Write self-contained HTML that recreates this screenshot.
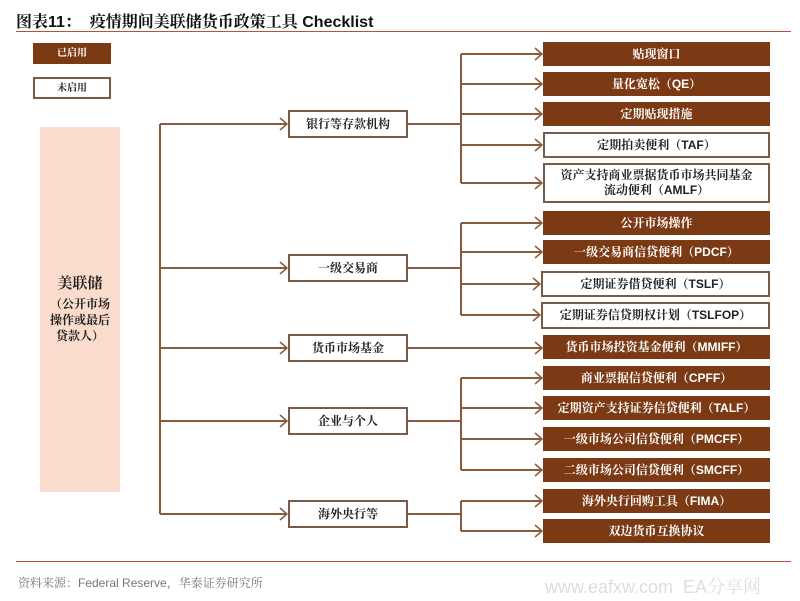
<!DOCTYPE html>
<html><head><meta charset="utf-8"><style>
body{margin:0;width:800px;height:601px;background:#fff;position:relative;overflow:hidden;font-family:"Liberation Sans","Noto Serif CJK SC","Noto Sans CJK SC",sans-serif;}
.b{position:absolute;box-sizing:border-box;display:flex;align-items:center;justify-content:center;text-align:center;font-size:12px;font-weight:bold;line-height:15px;}
.f{background:#7b3a14;color:#fff;}
.o{background:#fff;border:2px solid #7a5a48;color:#222;}
svg{position:absolute;left:0;top:0;}
</style></head><body>
<div style="position:absolute;left:16px;top:9px;font-size:16px;font-weight:bold;color:#111;font-family:'Liberation Sans','Noto Serif CJK SC',sans-serif">图表11：&nbsp;&nbsp;疫情期间美联储货币政策工具 Checklist</div>
<div style="position:absolute;left:16px;top:31px;width:775px;height:1px;background:#b5543a"></div>
<div class="b f" style="left:33px;top:43px;width:78px;height:21px;font-size:10px">已启用</div>
<div class="b o" style="left:33px;top:77px;width:78px;height:22px;font-size:10px">未启用</div>
<div class="b" style="left:40px;top:127px;width:80px;height:365px;background:#f9dccb;color:#222;flex-direction:column;font-size:12px;line-height:16px"><div style="font-size:15px;margin-bottom:4px">美联储</div>（公开市场<br>操作或最后<br>贷款人）</div>
<svg width="800" height="601" fill="none" stroke="#8a5a3c" stroke-width="2">
<path d="M160 124V514M160 124H286M160 268H286M160 348H286M160 421H286M160 514H286"/>
<path d="M408 124H461M461 54V183M461 54H541M461 84H541M461 114H541M461 145H541M461 183H541"/>
<path d="M408 268H461M461 223V315M461 223H541M461 252H541M461 284H539M461 315H539"/>
<path d="M408 348H541"/>
<path d="M408 421H461M461 378V470M461 378H541M461 408H541M461 439H541M461 470H541"/>
<path d="M408 514H461M461 501V531M461 501H541M461 531H541"/>
<g stroke-width="1.5">
<path d="M280 118l7 6-7 6M280 262l7 6-7 6M280 342l7 6-7 6M280 415l7 6-7 6M280 508l7 6-7 6"/>
<path d="M535 48l7 6-7 6M535 78l7 6-7 6M535 108l7 6-7 6M535 139l7 6-7 6M535 177l7 6-7 6M535 217l7 6-7 6M535 246l7 6-7 6M533 278l7 6-7 6M533 309l7 6-7 6M535 342l7 6-7 6M535 372l7 6-7 6M535 402l7 6-7 6M535 433l7 6-7 6M535 464l7 6-7 6M535 495l7 6-7 6M535 525l7 6-7 6"/>
</g>
</svg>
<div class="b o" style="left:288px;top:110px;width:120px;height:28px">银行等存款机构</div>
<div class="b o" style="left:288px;top:254px;width:120px;height:28px">一级交易商</div>
<div class="b o" style="left:288px;top:334px;width:120px;height:28px">货币市场基金</div>
<div class="b o" style="left:288px;top:407px;width:120px;height:28px">企业与个人</div>
<div class="b o" style="left:288px;top:500px;width:120px;height:28px">海外央行等</div>
<div class="b f" style="left:543px;top:42px;width:227px;height:24px">贴现窗口</div>
<div class="b f" style="left:543px;top:72px;width:227px;height:24px">量化宽松（QE）</div>
<div class="b f" style="left:543px;top:102px;width:227px;height:24px">定期贴现措施</div>
<div class="b o" style="left:543px;top:132px;width:227px;height:26px">定期拍卖便利（TAF）</div>
<div class="b o" style="left:543px;top:163px;width:227px;height:40px">资产支持商业票据货币市场共同基金<br>流动便利（AMLF）</div>
<div class="b f" style="left:543px;top:211px;width:227px;height:24px">公开市场操作</div>
<div class="b f" style="left:543px;top:240px;width:227px;height:24px">一级交易商信贷便利（PDCF）</div>
<div class="b o" style="left:541px;top:271px;width:229px;height:26px">定期证券借贷便利（TSLF）</div>
<div class="b o" style="left:541px;top:302px;width:229px;height:27px">定期证券信贷期权计划（TSLFOP）</div>
<div class="b f" style="left:543px;top:335px;width:227px;height:24px">货币市场投资基金便利（MMIFF）</div>
<div class="b f" style="left:543px;top:366px;width:227px;height:24px">商业票据信贷便利（CPFF）</div>
<div class="b f" style="left:543px;top:396px;width:227px;height:24px">定期资产支持证券信贷便利（TALF）</div>
<div class="b f" style="left:543px;top:427px;width:227px;height:24px">一级市场公司信贷便利（PMCFF）</div>
<div class="b f" style="left:543px;top:458px;width:227px;height:24px">二级市场公司信贷便利（SMCFF）</div>
<div class="b f" style="left:543px;top:489px;width:227px;height:24px">海外央行回购工具（FIMA）</div>
<div class="b f" style="left:543px;top:519px;width:227px;height:24px">双边货币互换协议</div>
<div style="position:absolute;left:16px;top:561px;width:775px;height:1px;background:#b5543a"></div>
<div style="position:absolute;left:18px;top:574px;font-size:12px;color:#777">资料来源：Federal Reserve，华泰证券研究所</div>
<div style="position:absolute;left:545px;top:573px;font-size:18px;color:#ddd;white-space:nowrap">www.eafxw.com&nbsp;&nbsp;EA分享网</div>
</body></html>
